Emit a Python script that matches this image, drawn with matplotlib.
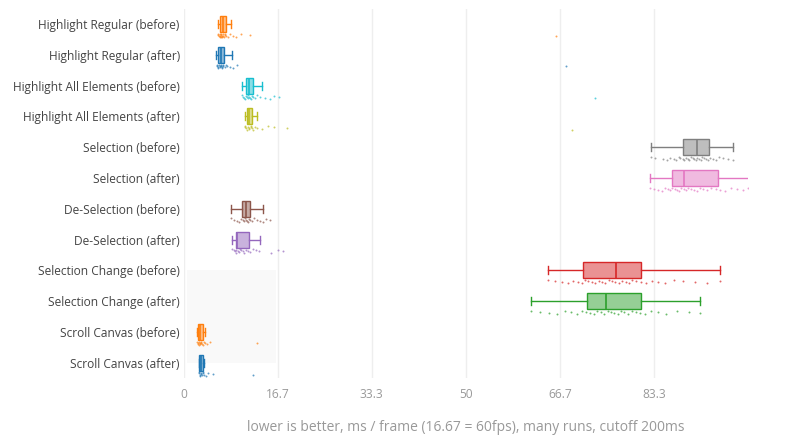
import matplotlib.pyplot as plt
import numpy as np

plt.rcParams['font.family'] = ['Open Sans', 'DejaVu Sans']

categories = ["Highlight Regular (before)", "Highlight Regular (after)",
              "Highlight All Elements (before)", "Highlight All Elements (after)",
              "Selection (before)", "Selection (after)",
              "De-Selection (before)", "De-Selection (after)",
              "Selection Change (before)", "Selection Change (after)",
              "Scroll Canvas (before)", "Scroll Canvas (after)"]

colors = ["#ff7f0e", "#1f77b4", "#17becf", "#bcbd22", "#7f7f7f", "#e377c2",
          "#8c564b", "#9467bd", "#d62728", "#2ca02c", "#ff7f0e", "#1f77b4"]

# box stats: lower whisker, q1, median, q3, upper whisker (ms / frame)
whislo = [6.0, 5.7, 10.3, 10.8, 82.8, 82.6, 8.3, 8.5, 64.5, 61.5, 2.3, 2.6]
q1 = [6.4, 6.0, 11.0, 11.2, 88.5, 86.5, 10.3, 9.2, 70.7, 71.5, 2.5, 2.7]
med = [6.9, 6.6, 11.6, 11.6, 91.0, 88.7, 11.0, 9.4, 76.6, 74.8, 2.9, 3.0]
q3 = [7.4, 7.1, 12.2, 12.1, 93.1, 94.7, 11.7, 11.5, 81.0, 81.0, 3.4, 3.4]
whishi = [8.3, 8.5, 13.8, 12.9, 97.3, 100.2, 14.0, 13.5, 95.0, 91.5, 3.7, 3.6]

points = [
    [6.0, 6.1, 6.2, 6.3, 6.3, 6.4, 6.5, 6.5, 6.6, 6.7, 6.8, 6.9, 7.0, 7.1, 7.2,
     7.3, 7.5, 7.8, 8.2, 8.6, 9.3, 10.1, 11.7, 66.0],
    [5.8, 5.9, 6.0, 6.1, 6.2, 6.3, 6.4, 6.5, 6.6, 6.7, 6.8, 6.9, 7.0, 7.2, 7.4,
     7.7, 8.1, 8.6, 9.4, 67.7],
    [10.2, 10.4, 10.6, 10.8, 11.0, 11.1, 11.3, 11.4, 11.6, 11.7, 11.9, 12.1,
     12.3, 12.6, 13.0, 13.5, 14.3, 15.2, 16.0, 16.8, 72.9],
    [10.8, 10.9, 11.0, 11.2, 11.3, 11.5, 11.6, 11.8, 11.9, 12.1, 12.3, 12.6,
     13.0, 13.8, 14.9, 16.0, 18.3, 68.8],
    [82.8, 83.5, 84.9, 85.6, 86.2, 86.8, 87.3, 87.7, 88.0, 88.4, 88.7, 89.0,
     89.3, 89.6, 89.9, 90.2, 90.5, 90.8, 91.0, 91.3, 91.6, 91.9, 92.2, 92.5,
     92.9, 93.3, 93.8, 94.3, 94.9, 95.6, 96.4, 97.3],
    [82.6, 83.4, 84.1, 84.8, 85.3, 85.8, 86.2, 86.6, 87.0, 87.4, 87.8, 88.2,
     88.6, 89.0, 89.4, 89.9, 90.4, 90.9, 91.5, 92.1, 92.8, 93.5, 94.3, 95.1,
     96.0, 97.0, 98.1, 99.2, 100.0],
    [8.4, 8.9, 9.4, 9.8, 10.1, 10.4, 10.6, 10.8, 11.0, 11.1, 11.3, 11.5, 11.7,
     12.0, 12.4, 12.9, 13.4, 14.0, 14.6, 15.3],
    [8.5, 8.8, 9.0, 9.2, 9.3, 9.5, 9.7, 9.9, 10.1, 10.4, 10.7, 11.0, 11.3,
     11.7, 12.2, 12.8, 13.3, 15.5, 16.6, 17.5],
    [64.5, 65.8, 67.0, 68.1, 69.0, 69.8, 70.5, 71.1, 71.7, 72.3, 72.9, 73.5,
     74.1, 74.7, 75.3, 75.9, 76.5, 77.1, 77.7, 78.3, 78.9, 79.5, 80.2, 81.0,
     81.9, 82.9, 84.0, 85.3, 86.8, 88.5, 90.6, 92.8, 95.0],
    [61.5, 63.2, 64.8, 66.2, 67.5, 68.6, 69.6, 70.5, 71.3, 72.0, 72.7, 73.3,
     73.9, 74.5, 75.1, 75.7, 76.3, 76.9, 77.5, 78.1, 78.7, 79.4, 80.1, 80.9,
     81.8, 82.8, 84.0, 85.5, 87.4, 89.5, 91.5],
    [2.3, 2.4, 2.5, 2.6, 2.7, 2.8, 2.9, 3.0, 3.1, 3.2, 3.3, 3.5, 3.7, 4.0, 4.6,
     12.9],
    [2.6, 2.7, 2.8, 2.9, 3.0, 3.1, 3.2, 3.3, 3.4, 3.6, 3.9, 4.3, 5.1, 12.2],
]

xticks = [0, 16.7, 33.3, 50, 66.7, 83.3]
xticklabels = ["0", "16.7", "33.3", "50", "66.7", "83.3"]

fig = plt.figure(figsize=(8, 4.4), dpi=100)
ax = fig.add_axes([0.23, 0.141, 0.705, 0.839])

n = len(categories)
pos = np.arange(n)

# faint shaded block behind the lower rows
ax.axvspan(0.5, 16.4, ymin=1 - (8.0 + 0.5) / n, ymax=1 - (11.0 + 0.5) / n,
           color="#f9f9f9", zorder=0, lw=0)

stats = []
for i in range(n):
    stats.append(dict(whislo=whislo[i], q1=q1[i], med=med[i], q3=q3[i],
                      whishi=whishi[i], fliers=[]))

bp = ax.bxp(stats, positions=pos, widths=0.52, capwidths=0.26,
            orientation='horizontal', patch_artist=True, showfliers=False)
for i in range(n):
    c = colors[i]
    bp['boxes'][i].set_facecolor((*plt.matplotlib.colors.to_rgb(c), 0.5))
    bp['boxes'][i].set_edgecolor(c)
    bp['boxes'][i].set_linewidth(1)
    bp['medians'][i].set_color(c)
    bp['medians'][i].set_linewidth(1.2)
    for k in (2 * i, 2 * i + 1):
        bp['whiskers'][k].set_color(c)
        bp['whiskers'][k].set_linewidth(1)
        bp['caps'][k].set_color(c)
        bp['caps'][k].set_linewidth(1)

for i in range(n):
    vals = points[i]
    jit = [((j * 37) % 7 - 3) * 0.018 for j in range(len(vals))]
    ys = [pos[i] + 0.37 + d for d in jit]
    ax.scatter(vals, ys, s=2, color=colors[i], alpha=0.7, lw=0, zorder=3)

ax.set_xlim(0, 100)
ax.set_ylim(n - 0.5, -0.5)
ax.set_yticks(pos)
ax.set_yticklabels(categories, fontsize=8.6, color="#444")
ax.set_xticks(xticks)
ax.set_xticklabels(xticklabels, fontsize=8.6, color="#999")
ax.tick_params(axis='y', length=0, pad=3)
ax.tick_params(axis='x', length=0, pad=7)
ax.grid(axis='x', color="#eeeeee", lw=1)
ax.set_axisbelow(True)
for s in ax.spines.values():
    s.set_visible(False)
ax.set_xlabel("lower is better, ms / frame (16.67 = 60fps), many runs, cutoff 200ms",
              fontsize=10, color="#999", labelpad=14)

fig.savefig("out.png", dpi=100)
